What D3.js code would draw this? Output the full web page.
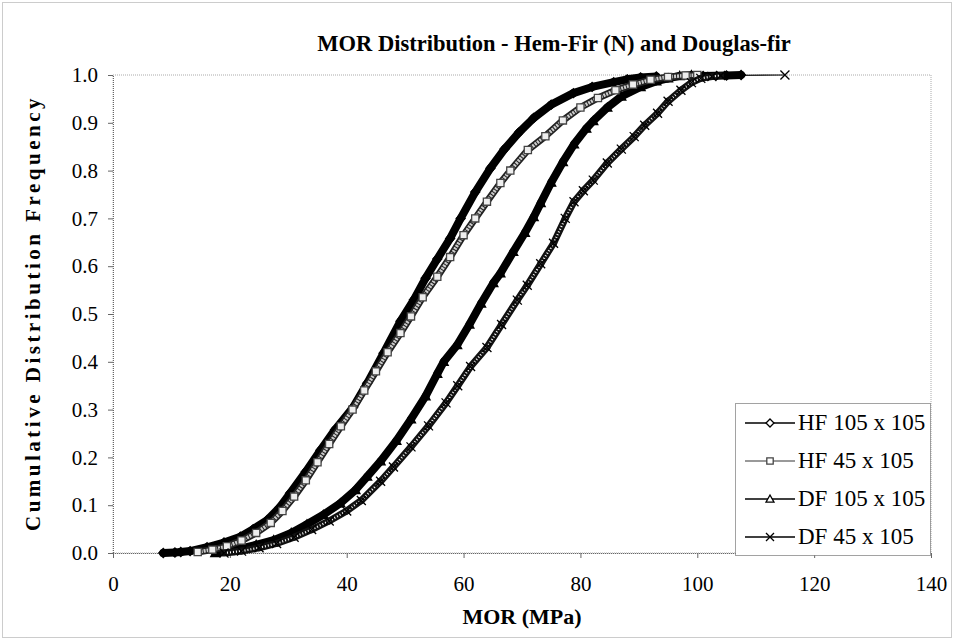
<!DOCTYPE html>
<html><head><meta charset="utf-8">
<script src="https://cdn.jsdelivr.net/npm/d3@7"></script>
<style>
html,body{margin:0;padding:0;background:#fff;}
svg{display:block;font-family:"Liberation Serif","Times New Roman",serif;}
</style></head>
<body><svg id="chart" width="954" height="640"></svg>
<script>
const title = "MOR Distribution - Hem-Fir (N) and Douglas-fir";
const xLabel = "MOR (MPa)";
const yLabel = "Cumulative Distribution Frequency";
const xTicks = [0,20,40,60,80,100,120,140];
const yTicks = [0,0.1,0.2,0.3,0.4,0.5,0.6,0.7,0.8,0.9,1.0];
const seriesNames = ["HF 105 x 105","HF 45 x 105","DF 105 x 105","DF 45 x 105"];

// [MOR (MPa), cumulative frequency]
const hf105 = [[8.6,0.000],[10.6,0.001],[11.6,0.002],[13.2,0.004],[16.1,0.012],[19.0,0.022],[21.8,0.034],[24.0,0.050],[26.4,0.069],[28.5,0.095],[30.3,0.125],[33.0,0.170],[35.5,0.215],[38.0,0.258],[41.1,0.305],[43.5,0.355],[46.3,0.418],[49.2,0.485],[51.5,0.530],[53.5,0.575],[55.5,0.615],[57.7,0.658],[59.5,0.700],[62.0,0.755],[64.6,0.805],[67.0,0.845],[69.5,0.880],[72.0,0.910],[75.0,0.938],[78.8,0.962],[82.0,0.975],[85.7,0.985],[88.0,0.991],[90.3,0.995],[93.0,0.997],[101,0.998],[105,0.999],[107.5,1.0]];
const hf45 = [[14.5,0.002],[17,0.007],[19.5,0.014],[22,0.026],[24.5,0.042],[27,0.063],[29,0.088],[31,0.118],[33,0.152],[35,0.190],[37,0.228],[39,0.265],[41,0.300],[43,0.340],[45,0.380],[47,0.420],[49.2,0.460],[51,0.495],[53,0.535],[55.5,0.578],[57.7,0.619],[60,0.665],[62,0.700],[64,0.735],[66.3,0.774],[68,0.800],[71,0.843],[74,0.872],[77,0.905],[80,0.932],[83,0.952],[86,0.968],[89,0.980],[92,0.990],[95,0.996],[98,0.999],[100,1.0]];
const df105 = [[17.5,0.000],[20,0.004],[21.8,0.009],[24.5,0.017],[27.5,0.027],[30.5,0.042],[33.2,0.060],[36,0.080],[38.9,0.104],[41.5,0.132],[43.5,0.160],[45.8,0.192],[48.5,0.235],[51,0.280],[53.5,0.328],[55.5,0.375],[56.6,0.400],[58.9,0.435],[61,0.478],[63,0.522],[65.1,0.565],[66.3,0.585],[68.5,0.630],[70.5,0.670],[72,0.703],[73.2,0.732],[75,0.775],[77,0.818],[78.9,0.855],[81,0.888],[82.2,0.904],[84.6,0.932],[87,0.955],[90.3,0.975],[93,0.987],[95,0.993],[97,0.998],[99,1.0]];
const df45 = [[19,0.000],[22,0.004],[25,0.011],[28,0.020],[31,0.033],[34,0.049],[37,0.067],[40,0.088],[42.5,0.110],[45.8,0.150],[48,0.180],[51,0.222],[54,0.266],[57,0.314],[59,0.350],[61.2,0.390],[64,0.430],[66.5,0.478],[69.2,0.529],[70.9,0.560],[73.2,0.605],[75.4,0.648],[77.4,0.700],[78.9,0.735],[80.5,0.758],[82.2,0.780],[84.6,0.816],[87,0.845],[89.2,0.871],[91,0.895],[93.2,0.920],[95,0.945],[97.2,0.968],[99,0.984],[100.6,0.993],[102.5,0.997],[104,0.999],[115,1.0]];

const seriesData = [hf105, hf45, df105, df45];
const styles = [
  {band:"#000", bandW:8, inner:null, line:"#000", marker:"diamond", mStroke:"#000", mFill:"#000"},
  {band:"#222", bandW:7, inner:"#ccc", innerDash:"2,1", innerW:3.5, line:"#777", marker:"square", mStroke:"#444", mFill:"#eee"},
  {band:"#000", bandW:8, inner:null, line:"#000", marker:"triangle", mStroke:"#000", mFill:"#000"},
  {band:"#111", bandW:7, inner:"#fff", innerDash:"1,2", innerW:2.2, line:"#000", marker:"cross", mStroke:"#000", mFill:"none"}
];

const svg = d3.select("#chart");
const x = d3.scaleLinear().domain([0,140]).range([113,931]);
const y = d3.scaleLinear().domain([0,1]).range([553,75]);

svg.append("rect").attr("x",2.5).attr("y",2.5).attr("width",949).attr("height",635)
  .attr("fill","none").attr("stroke","#999").attr("stroke-dasharray","1,1");

svg.append("rect").attr("x",x(0)).attr("y",y(1)).attr("width",x(140)-x(0)).attr("height",y(0)-y(1))
  .attr("fill","none").attr("stroke","#aaa").attr("stroke-dasharray","1,1");

const yAxis = svg.append("g").attr("transform",`translate(${x(0)},0)`)
  .call(d3.axisLeft(y).tickValues(yTicks).tickFormat(d3.format(".1f")).tickSize(5).tickPadding(10));
const xAxis = svg.append("g").attr("transform",`translate(0,${y(0)})`)
  .call(d3.axisBottom(x).tickValues(xTicks).tickFormat(d3.format("d")).tickSize(5).tickPadding(18));
[yAxis,xAxis].forEach(g=>{
  g.select(".domain").attr("stroke","#666").attr("stroke-dasharray","1,1");
  g.selectAll(".tick line").attr("stroke","#666");
  g.selectAll(".tick text").attr("font-family","Liberation Serif").attr("font-size",21).attr("fill","#000");
});

svg.append("text").attr("x",554).attr("y",51).attr("text-anchor","middle")
  .attr("font-size",22.5).attr("font-weight","bold").text(title);
svg.append("text").attr("x",522).attr("y",624).attr("text-anchor","middle")
  .attr("font-size",22).attr("font-weight","bold").text(xLabel);
svg.append("text").attr("transform","translate(40,313) rotate(-90)").attr("text-anchor","middle")
  .attr("font-size",21).attr("font-weight","bold").attr("letter-spacing",3.5).text(yLabel);

function markerPath(type, s){
  if(type==="diamond") return `M0,${-s}L${s},0L0,${s}L${-s},0Z`;
  if(type==="square") return `M${-s*0.8},${-s*0.8}h${s*1.6}v${s*1.6}h${-s*1.6}Z`;
  if(type==="triangle") return `M0,${-s}L${s},${s*0.8}L${-s},${s*0.8}Z`;
  return `M${-s},${-s}L${s},${s}M${s},${-s}L${-s},${s}`;
}

const line = d3.line().x(d=>x(d[0])).y(d=>y(d[1]));
const order = [0,2,1,3];
order.forEach(i=>{
  const data = seriesData[i], st = styles[i];
  const g = svg.append("g");
  const segs = [];
  for(let k=1;k<data.length;k++){
    const a=data[k-1], b=data[k];
    const dist = Math.hypot(x(b[0])-x(a[0]), y(b[1])-y(a[1]));
    segs.push({a,b,dense: dist < 40});
  }
  g.selectAll("path.thin").data(segs).join("path").attr("class","thin")
    .attr("d",s=>line([s.a,s.b])).attr("stroke",st.line).attr("stroke-width",1.2).attr("fill","none");
  const dense = segs.filter(s=>s.dense);
  g.selectAll("path.band").data(dense).join("path").attr("class","band")
    .attr("d",s=>line([s.a,s.b])).attr("stroke",st.band).attr("stroke-width",st.bandW)
    .attr("stroke-linecap","round").attr("fill","none");
  if(st.inner){
    g.selectAll("path.inner").data(dense).join("path").attr("class","inner")
      .attr("d",s=>line([s.a,s.b])).attr("stroke",st.inner).attr("stroke-width",st.innerW)
      .attr("stroke-dasharray",st.innerDash).attr("fill","none");
  }
  g.selectAll("path.mk").data(data).join("path").attr("class","mk")
    .attr("transform",d=>`translate(${x(d[0])},${y(d[1])})`)
    .attr("d",markerPath(st.marker,4.5)).attr("stroke",st.mStroke).attr("stroke-width",1.3)
    .attr("fill",st.mFill);
});

const lg = svg.append("g");
lg.append("rect").attr("x",735.5).attr("y",403.5).attr("width",195).attr("height",152)
  .attr("fill","#fff").attr("stroke","#444").attr("stroke-dasharray","1,1");
seriesNames.forEach((n,i)=>{
  const st = styles[i];
  const yy = 423 + i*38;
  lg.append("line").attr("x1",745).attr("x2",795).attr("y1",yy).attr("y2",yy)
    .attr("stroke",st.line).attr("stroke-width",1.3);
  lg.append("path").attr("transform",`translate(770,${yy})`).attr("d",markerPath(st.marker,4))
    .attr("stroke",st.mStroke).attr("stroke-width",1.3).attr("fill", st.marker==="cross"?"none":"#fff");
  lg.append("text").attr("x",798).attr("y",yy+7).attr("font-size",23).text(n);
});
</script></body></html>
